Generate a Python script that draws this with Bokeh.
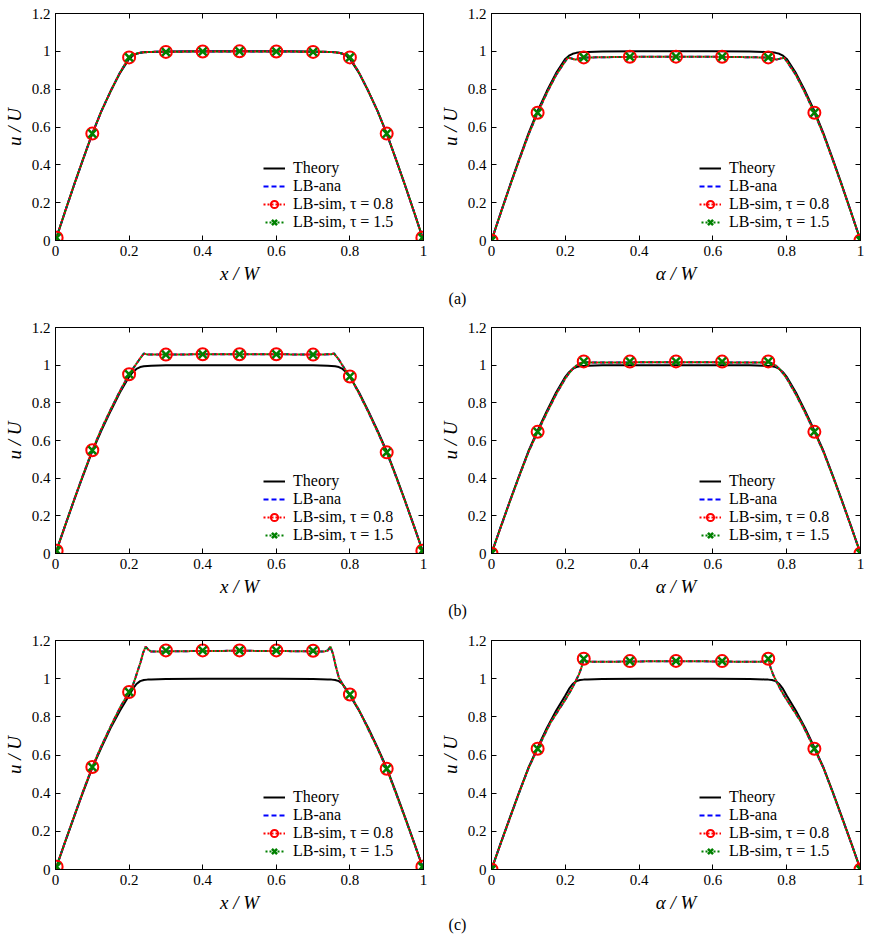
from bokeh.plotting import figure
from bokeh.layouts import column, row
from bokeh.models import (LinearAxis, FixedTicker, CustomJSTickFormatter, Legend,
                          LegendItem, Range1d, Label)
from bokeh.embed import file_html
from bokeh.resources import INLINE

SERIF = "Liberation Serif"

X_TICKS = [0, 0.2, 0.4, 0.6, 0.8, 1.0]
Y_TICKS = [0, 0.2, 0.4, 0.6, 0.8, 1.0, 1.2]

# ---- theory profiles (shared abscissa) ----
x_theory = [0, 0.025, 0.05, 0.075, 0.1, 0.125, 0.15, 0.175, 0.2, 0.21, 0.22, 0.23, 0.24, 0.25,
            0.26, 0.28, 0.3, 0.4, 0.5, 0.6, 0.7, 0.72, 0.74, 0.75, 0.76, 0.77, 0.78, 0.79,
            0.8, 0.825, 0.85, 0.875, 0.9, 0.925, 0.95, 0.975, 1.0]
theory_a = [0, 0.147, 0.291, 0.43, 0.565, 0.685, 0.79, 0.885, 0.96, 0.977, 0.987, 0.992, 0.995, 0.996,
            0.997, 0.998, 0.999, 1.0, 1.0, 1.0, 0.999, 0.998, 0.997, 0.996, 0.995, 0.992, 0.987, 0.977,
            0.96, 0.885, 0.79, 0.685, 0.565, 0.43, 0.291, 0.147, 0]
theory_b = [0, 0.141, 0.28, 0.414, 0.543, 0.654, 0.757, 0.855, 0.938, 0.963, 0.98, 0.99, 0.994, 0.996,
            0.997, 0.998, 0.999, 1.0, 1.0, 1.0, 0.999, 0.998, 0.997, 0.996, 0.994, 0.99, 0.98, 0.963,
            0.938, 0.855, 0.757, 0.654, 0.543, 0.414, 0.28, 0.141, 0]
theory_c = [0, 0.138, 0.273, 0.406, 0.533, 0.64, 0.742, 0.832, 0.912, 0.946, 0.972, 0.987, 0.993, 0.995,
            0.996, 0.997, 0.998, 0.999, 1.0, 0.999, 0.998, 0.997, 0.996, 0.995, 0.993, 0.987, 0.972, 0.946,
            0.912, 0.832, 0.742, 0.64, 0.533, 0.406, 0.273, 0.138, 0]

# ---- LB analytical profiles ----
ana_a_left_x = x_theory
ana_a_left_u = [0, 0.147, 0.291, 0.43, 0.565, 0.685, 0.79, 0.887, 0.968, 0.981, 0.988, 0.992, 0.995, 0.996,
                0.997, 0.998, 0.998, 0.999, 1.0, 0.999, 0.998, 0.998, 0.997, 0.996, 0.995, 0.992, 0.988, 0.981,
                0.968, 0.887, 0.79, 0.685, 0.565, 0.43, 0.291, 0.147, 0]

ana_a_right_x = [0, 0.025, 0.05, 0.075, 0.1, 0.125, 0.15, 0.175, 0.2, 0.207, 0.215, 0.228, 0.24, 0.25,
                 0.3, 0.4, 0.5, 0.6, 0.7, 0.75, 0.76, 0.772, 0.785, 0.793, 0.8, 0.825, 0.85, 0.875,
                 0.9, 0.925, 0.95, 0.975, 1.0]
ana_a_right_u = [0, 0.145, 0.288, 0.425, 0.558, 0.675, 0.78, 0.875, 0.948, 0.966, 0.963, 0.956, 0.963, 0.967,
                 0.969, 0.971, 0.972, 0.971, 0.969, 0.967, 0.963, 0.956, 0.963, 0.966, 0.948, 0.875, 0.78, 0.675,
                 0.558, 0.425, 0.288, 0.145, 0]

ana_b_left_x = [0, 0.025, 0.05, 0.075, 0.1, 0.125, 0.15, 0.175, 0.2, 0.21, 0.22, 0.23, 0.24, 0.25,
                0.3, 0.4, 0.5, 0.6, 0.7, 0.75, 0.757, 0.77, 0.78, 0.79, 0.8, 0.825, 0.85, 0.875,
                0.9, 0.925, 0.95, 0.975, 1.0]
ana_b_left_u = [0, 0.142, 0.282, 0.418, 0.548, 0.662, 0.765, 0.862, 0.952, 0.98, 1.008, 1.036, 1.062, 1.057,
                1.056, 1.058, 1.058, 1.058, 1.056, 1.058, 1.062, 1.03, 0.998, 0.968, 0.94, 0.85, 0.752, 0.648,
                0.537, 0.41, 0.277, 0.14, 0]

ana_b_right_x = [0, 0.025, 0.05, 0.075, 0.1, 0.125, 0.15, 0.175, 0.2, 0.21, 0.22, 0.23, 0.24, 0.25, 0.26,
                 0.3, 0.4, 0.5, 0.6, 0.7, 0.74, 0.75, 0.76, 0.77, 0.78, 0.79, 0.8, 0.825, 0.85, 0.875,
                 0.9, 0.925, 0.95, 0.975, 1.0]
ana_b_right_u = [0, 0.14, 0.277, 0.41, 0.538, 0.646, 0.748, 0.845, 0.93, 0.957, 0.98, 0.998, 1.01, 1.017, 1.015,
                 1.014, 1.015, 1.016, 1.015, 1.014, 1.015, 1.017, 1.01, 0.998, 0.98, 0.957, 0.93, 0.845, 0.748, 0.646,
                 0.538, 0.41, 0.277, 0.14, 0]

ana_c_left_x = [0, 0.025, 0.05, 0.075, 0.1, 0.125, 0.15, 0.175, 0.2, 0.21, 0.217, 0.224, 0.231, 0.238,
                0.245, 0.252, 0.26, 0.3, 0.4, 0.5, 0.6, 0.7, 0.73, 0.74, 0.747, 0.754, 0.761, 0.77,
                0.785, 0.8, 0.825, 0.85, 0.875, 0.9, 0.925, 0.95, 0.975, 1.0]
ana_c_left_u = [0, 0.139, 0.275, 0.41, 0.537, 0.648, 0.75, 0.847, 0.93, 0.965, 1.003, 1.045, 1.085, 1.135,
                1.168, 1.152, 1.142, 1.143, 1.145, 1.146, 1.145, 1.143, 1.142, 1.148, 1.168, 1.13, 1.07, 1.005,
                0.955, 0.917, 0.835, 0.735, 0.635, 0.528, 0.4, 0.27, 0.136, 0]

ana_c_right_x = [0, 0.025, 0.05, 0.075, 0.1, 0.125, 0.16, 0.185, 0.205, 0.218, 0.228, 0.237, 0.244, 0.25,
                 0.256, 0.3, 0.375, 0.5, 0.625, 0.7, 0.744, 0.75, 0.756, 0.763, 0.772, 0.782, 0.795,
                 0.815, 0.84, 0.875, 0.9, 0.925, 0.95, 0.975, 1.0]
ana_c_right_u = [0, 0.137, 0.27, 0.403, 0.53, 0.633, 0.77, 0.845, 0.905, 0.948, 0.987, 1.022, 1.06, 1.104,
                 1.09, 1.088, 1.09, 1.092, 1.09, 1.088, 1.09, 1.104, 1.06, 1.022, 0.987, 0.948, 0.905,
                 0.845, 0.77, 0.633, 0.53, 0.403, 0.27, 0.137, 0]

# ---- LB simulation samples (tau = 0.8 and tau = 1.5 coincide) ----
sim_x_left = [0.003, 0.1, 0.2, 0.3, 0.4, 0.5, 0.6, 0.7, 0.8, 0.9, 0.997]
sim_x_right = [0, 0.125, 0.25, 0.375, 0.5, 0.625, 0.75, 0.875, 1.0]

sim08_a_left = [0.015, 0.565, 0.968, 0.997, 0.999, 1.0, 0.999, 0.997, 0.968, 0.565, 0.015]
sim15_a_left = [0.015, 0.565, 0.968, 0.997, 0.999, 1.0, 0.999, 0.997, 0.968, 0.565, 0.015]
sim08_a_right = [0, 0.675, 0.968, 0.971, 0.972, 0.971, 0.968, 0.675, 0]
sim15_a_right = [0, 0.675, 0.968, 0.971, 0.972, 0.971, 0.968, 0.675, 0]

sim08_b_left = [0.015, 0.548, 0.952, 1.056, 1.058, 1.058, 1.058, 1.056, 0.94, 0.537, 0.015]
sim15_b_left = [0.015, 0.548, 0.952, 1.056, 1.058, 1.058, 1.058, 1.056, 0.94, 0.537, 0.015]
sim08_b_right = [0, 0.646, 1.02, 1.019, 1.02, 1.019, 1.02, 0.646, 0]
sim15_b_right = [0, 0.646, 1.02, 1.019, 1.02, 1.019, 1.02, 0.646, 0]

sim08_c_left = [0.015, 0.537, 0.93, 1.148, 1.148, 1.148, 1.148, 1.146, 0.917, 0.528, 0.015]
sim15_c_left = [0.015, 0.537, 0.93, 1.148, 1.148, 1.148, 1.148, 1.146, 0.917, 0.528, 0.015]
sim08_c_right = [0, 0.633, 1.104, 1.092, 1.093, 1.092, 1.104, 0.633, 0]
sim15_c_right = [0, 0.633, 1.104, 1.092, 1.093, 1.092, 1.104, 0.633, 0]

TICK_FMT = "return String(Math.round(tick * 10) / 10)"
BLANK_FMT = "return ''"


def style_axis(ax, ticks, labelled, label=None):
    ax.ticker = FixedTicker(ticks=ticks, minor_ticks=[])
    ax.major_tick_in = 5
    ax.major_tick_out = 0
    ax.minor_tick_in = 0
    ax.minor_tick_out = 0
    ax.axis_line_color = "black"
    ax.major_tick_line_color = "black"
    ax.major_label_text_font = SERIF
    ax.major_label_text_color = "black"
    if labelled:
        ax.formatter = CustomJSTickFormatter(code=TICK_FMT)
        ax.major_label_text_font_size = "15px"
        ax.major_label_standoff = 5
        ax.axis_label = label
        ax.axis_label_text_font = SERIF
        ax.axis_label_text_font_style = "italic"
        ax.axis_label_text_font_size = "19px"
        ax.axis_label_text_color = "black"
        ax.axis_label_standoff = 4
    else:
        # mirrored tick marks only
        ax.formatter = CustomJSTickFormatter(code=BLANK_FMT)
        ax.major_label_text_font_size = "1px"
        ax.major_label_standoff = 0


def panel(xlabel, x_th, u_th, x_ana, u_ana, x_sim, u08, u15,
          frame_w, frame_h, top, right):
    p = figure(frame_width=frame_w, frame_height=frame_h,
               x_range=Range1d(0, 1), y_range=Range1d(0, 1.2),
               min_border_left=55, min_border_right=right,
               min_border_top=top, min_border_bottom=45,
               output_backend="svg", toolbar_location=None,
               background_fill_color="white", border_fill_color="white")
    p.grid.visible = False
    p.outline_line_color = "black"
    p.outline_line_width = 1

    style_axis(p.xaxis[0], X_TICKS, True, xlabel)
    style_axis(p.yaxis[0], Y_TICKS, True, "u / U")
    top_ax = LinearAxis()
    right_ax = LinearAxis()
    style_axis(top_ax, X_TICKS, False)
    style_axis(right_ax, Y_TICKS, False)
    p.add_layout(top_ax, "above")
    p.add_layout(right_ax, "right")

    r_th = p.line(x_th, u_th, line_color="black", line_width=2)
    r_ana = p.line(x_ana, u_ana, line_color="#0000ff", line_width=2, line_dash="5 3")
    r08_l = p.line(x_ana, u_ana, line_color="#ff0000", line_width=2, line_dash="2 2")
    r15_l = p.line(x_ana, u_ana, line_color="#008000", line_width=2, line_dash="2 2",
                   line_dash_offset=2)
    r08_m = p.scatter(x_sim, u08, marker="circle", size=12, fill_color=None,
                      line_color="#ff0000", line_width=2)
    r15_m = p.scatter(x_sim, u15, marker="x", size=11, line_color="#008000",
                      line_width=2.5)

    legend = Legend(items=[
        LegendItem(label="Theory", renderers=[r_th]),
        LegendItem(label="LB-ana", renderers=[r_ana]),
        LegendItem(label="LB-sim, τ = 0.8", renderers=[r08_l, r08_m]),
        LegendItem(label="LB-sim, τ = 1.5", renderers=[r15_l, r15_m]),
    ], location=(208, 9), glyph_width=22, glyph_height=18, label_height=18, spacing=0,
        label_standoff=8, padding=0, margin=0,
        border_line_color=None, background_fill_alpha=0,
        label_text_font=SERIF, label_text_font_size="16px", label_text_color="black")
    p.add_layout(legend)
    return p


def caption(text, h, offset):
    c = figure(width=872, height=h, x_range=Range1d(0, 872), y_range=Range1d(0, h),
               x_axis_type=None, y_axis_type=None, min_border=0,
               output_backend="svg", toolbar_location=None)
    c.outline_line_color = None
    c.add_layout(Label(x=457, y=h - offset, text=text, text_align="center",
                       text_baseline="middle", text_font=SERIF,
                       text_font_size="16px", text_color="black"))
    return c


a_left = panel("x / W", x_theory, theory_a, ana_a_left_x, ana_a_left_u,
               sim_x_left, sim08_a_left, sim15_a_left, 368, 227, 13, 13)
a_right = panel("α / W", x_theory, theory_a, ana_a_right_x, ana_a_right_u,
                sim_x_right, sim08_a_right, sim15_a_right, 369, 227, 13, 12)
b_left = panel("x / W", x_theory, theory_b, ana_b_left_x, ana_b_left_u,
               sim_x_left, sim08_b_left, sim15_b_left, 368, 226, 13, 13)
b_right = panel("α / W", x_theory, theory_b, ana_b_right_x, ana_b_right_u,
                sim_x_right, sim08_b_right, sim15_b_right, 369, 226, 13, 12)
c_left = panel("x / W", x_theory, theory_c, ana_c_left_x, ana_c_left_u,
               sim_x_left, sim08_c_left, sim15_c_left, 368, 229, 12, 13)
c_right = panel("α / W", x_theory, theory_c, ana_c_right_x, ana_c_right_u,
                sim_x_right, sim08_c_right, sim15_c_right, 369, 229, 12, 12)

layout = column(
    row(a_left, a_right), caption("(a)", 28, 12),
    row(b_left, b_right), caption("(b)", 29, 11),
    row(c_left, c_right), caption("(c)", 26, 9),
)

open("out.html", "w").write(file_html(layout, INLINE))
